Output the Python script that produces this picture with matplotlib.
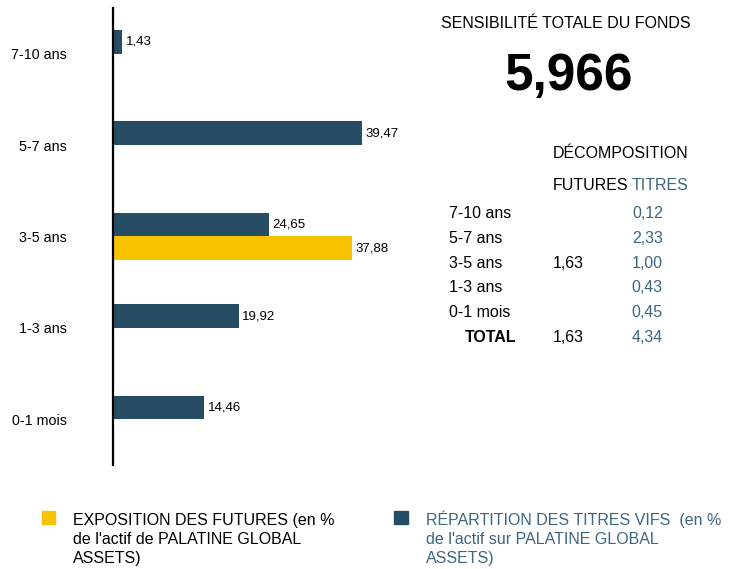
import matplotlib.pyplot as plt

plt.rcParams['font.family'] = ['Liberation Sans', 'DejaVu Sans']

# -----------------------------
# Data
# -----------------------------
categories = ['7-10 ans', '5-7 ans', '3-5 ans', '1-3 ans', '0-1 mois']
titres_vifs = [1.43, 39.47, 24.65, 19.92, 14.46]
futures = [None, None, 37.88, None, None]

sens_futures = [None, None, 1.63, None, None]
sens_titres = [0.12, 2.33, 1.00, 0.43, 0.45]
total_futures = 1.63
total_titres = 4.34
sens_totale = 5.966

legend_futures = ["EXPOSITION DES FUTURES (en %", "de l'actif de PALATINE GLOBAL", "ASSETS)"]
legend_titres = ["RÉPARTITION DES TITRES VIFS  (en %", "de l'actif sur PALATINE GLOBAL", "ASSETS)"]

BLUE = '#264d63'
TXT_BLUE = '#3d6580'
YELLOW = '#f8c300'

W, H = 736, 569


def fx(x):
    return x / W


def fy(y):
    return 1 - y / H


def fr(v, nd=2):
    return f"{v:.{nd}f}".replace('.', ',')


fig = plt.figure(figsize=(W / 100, H / 100), dpi=100)

# -----------------------------
# Bar chart
# -----------------------------
ax = fig.add_axes([fx(113), fy(465), 260 / W, 457 / H])
h = 0.26
pos = list(range(len(categories)))

ax.barh([p - h / 2 for p in pos], titres_vifs, height=h, color=BLUE)
fut_pos = [p + h / 2 for p, v in zip(pos, futures) if v is not None]
fut_val = [v for v in futures if v is not None]
ax.barh(fut_pos, fut_val, height=h, color=YELLOW)

for p, v in zip(pos, titres_vifs):
    ax.annotate(fr(v), (v, p - h / 2), xytext=(2.5, 0), textcoords='offset points',
                va='center', ha='left', fontsize=9.5)
for p, v in zip(fut_pos, fut_val):
    ax.annotate(fr(v), (v, p), xytext=(2.5, 0), textcoords='offset points',
                va='center', ha='left', fontsize=9.5)

ax.set_xlim(0, 260 / 6.31)
ax.set_ylim(4.5, -0.5)
ax.set_yticks(pos)
ax.set_yticklabels(categories, fontsize=10.3)
ax.tick_params(axis='y', length=0, pad=33)
ax.set_xticks([])
for s in ['top', 'right', 'bottom']:
    ax.spines[s].set_visible(False)
ax.spines['left'].set_linewidth(1.6)
ax.spines['left'].set_color('black')

# -----------------------------
# Sensitivity panel
# -----------------------------
fig.text(fx(566), fy(23), 'SENSIBILITÉ TOTALE DU FONDS', ha='center', va='center', fontsize=11.5)
fig.text(fx(569), fy(90), fr(sens_totale, 3), ha='center', va='baseline',
         fontsize=37, fontweight='bold')
fig.text(fx(553), fy(158), 'DÉCOMPOSITION', ha='left', va='baseline', fontsize=11.5)
fig.text(fx(553), fy(190), 'FUTURES', ha='left', va='baseline', fontsize=11.5)
fig.text(fx(632), fy(190), 'TITRES', ha='left', va='baseline', fontsize=11.5, color=TXT_BLUE)

row_y = 218
for cat, f, t in zip(categories, sens_futures, sens_titres):
    fig.text(fx(449), fy(row_y), cat, ha='left', va='baseline', fontsize=11.5)
    if f is not None:
        fig.text(fx(553), fy(row_y), fr(f), ha='left', va='baseline', fontsize=11.5)
    fig.text(fx(663), fy(row_y), fr(t), ha='right', va='baseline', fontsize=11.5, color=TXT_BLUE)
    row_y += 24.8
fig.text(fx(465), fy(row_y), 'TOTAL', ha='left', va='baseline', fontsize=11.5, fontweight='bold')
fig.text(fx(553), fy(row_y), fr(total_futures), ha='left', va='baseline', fontsize=11.5)
fig.text(fx(663), fy(row_y), fr(total_titres), ha='right', va='baseline', fontsize=11.5, color=TXT_BLUE)

# -----------------------------
# Legend
# -----------------------------
fig.patches.append(plt.Rectangle((fx(42), fy(524)), 13 / W, 13 / H, color=YELLOW,
                                 transform=fig.transFigure, figure=fig))
fig.patches.append(plt.Rectangle((fx(394), fy(524)), 14 / W, 13 / H, color=BLUE,
                                 transform=fig.transFigure, figure=fig))
for i, (l1, l2) in enumerate(zip(legend_futures, legend_titres)):
    y = 525 + 19 * i
    fig.text(fx(73), fy(y), l1, ha='left', va='baseline', fontsize=11.5)
    fig.text(fx(426), fy(y), l2, ha='left', va='baseline', fontsize=11.5, color=TXT_BLUE)

plt.savefig('out.png', dpi=100)
